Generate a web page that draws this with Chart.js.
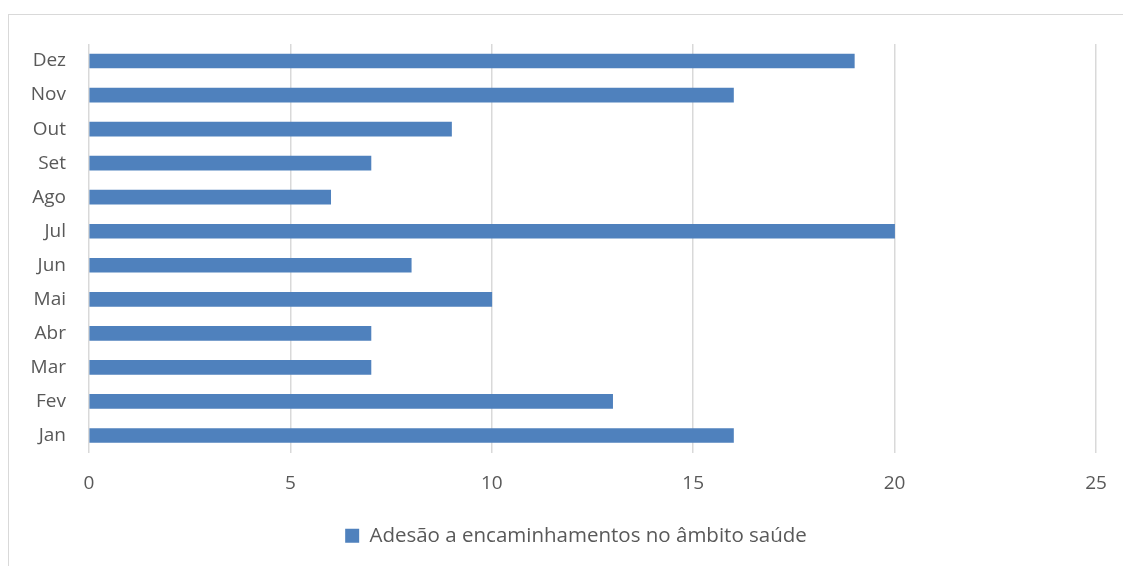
<!DOCTYPE html>
<html>
<head>
<meta charset="utf-8">
<script src="https://cdn.jsdelivr.net/npm/chart.js@4"></script>
<style>
  html, body { margin: 0; padding: 0; background: #fff; }
  #wrap { position: relative; width: 1123px; height: 566px; overflow: hidden; }
  #frame { position: absolute; left: 8px; top: 14px; width: 1200px; height: 600px; border: 1.5px solid #d9d9d9; }
  #chart { position: absolute; left: 0; top: 0; }
</style>
</head>
<body>
<div id="wrap">
  <div id="frame"></div>
  <canvas id="chart" width="1123" height="566"></canvas>
</div>
<script>
// Dados do gráfico
const meses = ['Jan', 'Fev', 'Mar', 'Abr', 'Mai', 'Jun', 'Jul', 'Ago', 'Set', 'Out', 'Nov', 'Dez'];
const adesao = [16, 13, 7, 7, 10, 8, 20, 6, 7, 9, 16, 19];
const serieNome = 'Adesão a encaminhamentos no âmbito saúde';
const eixoX = [0, 5, 10, 15, 20, 25];

const fonte = '"Open Sans", "Liberation Sans", sans-serif';
const cinzaTexto = '#595959';

// desloca a legenda para ficar centrada como no original
const moverLegenda = {
  id: 'moverLegenda',
  beforeDraw(chart) {
    const lg = chart.legend;
    if (lg && !lg._movida) {
      lg.left += 28;
      lg.right += 28;
      lg._movida = true;
    }
  }
};

new Chart(document.getElementById('chart'), {
  type: 'bar',
  data: {
    labels: meses,
    datasets: [{
      label: serieNome,
      data: adesao,
      backgroundColor: '#4f81bd',
      barThickness: 14
    }]
  },
  options: {
    indexAxis: 'y',
    responsive: false,
    animation: false,
    layout: { padding: { left: 0, right: 27, top: 44, bottom: 10 } },
    plugins: {
      tooltip: { enabled: false },
      legend: {
        position: 'bottom',
        labels: {
          font: { family: fonte, size: 20.5 },
          color: cinzaTexto,
          boxWidth: 14,
          boxHeight: 14,
          padding: 10
        }
      }
    },
    scales: {
      x: {
        min: 0,
        max: 25,
        afterBuildTicks: (scale) => { scale.ticks = eixoX.map(v => ({ value: v })); },
        afterFit: (scale) => {
          scale.height = 63;
          scale.paddingLeft = 0;
          scale.paddingRight = 0;
        },
        grid: { color: '#d9d9d9', lineWidth: 1.5, drawTicks: false },
        border: { display: false },
        ticks: { font: { family: fonte, size: 19 }, color: cinzaTexto, padding: 20 }
      },
      y: {
        reverse: true,
        afterFit: (scale) => { scale.width = 89; },
        grid: { display: false },
        border: { display: false },
        ticks: { font: { family: fonte, size: 19 }, color: cinzaTexto, padding: 15 }
      }
    }
  },
  plugins: [moverLegenda]
});
</script>
</body>
</html>
